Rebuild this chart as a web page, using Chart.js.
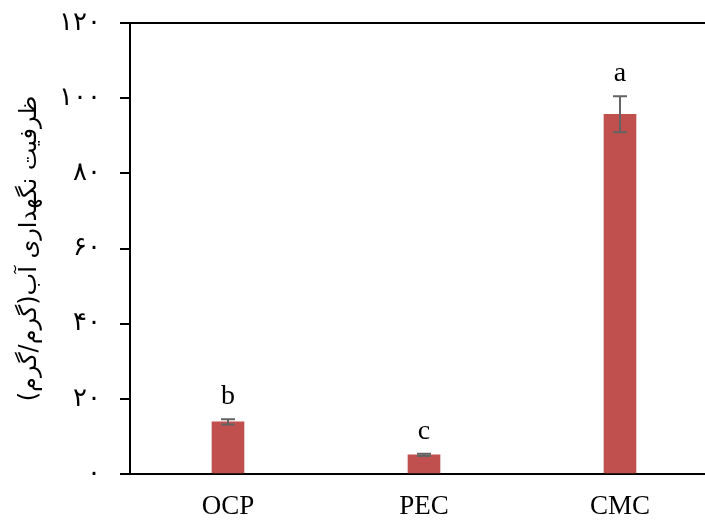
<!DOCTYPE html>
<html>
<head>
<meta charset="utf-8">
<script src="https://cdn.jsdelivr.net/npm/chart.js@4/dist/chart.umd.min.js"></script>
<style>
    html, body { margin: 0; padding: 0; background: #fff; overflow: hidden; }
</style>
</head>
<body>
<canvas id="myChart" width="718" height="523"></canvas>
<script>
// Data
const categories = ['OCP', 'PEC', 'CMC'];
const capacity = [13.9, 5.1, 95.7];
const errors = [0.7, 0.3, 4.8];
const groupLetters = ['b', 'c', 'a'];
const yTickLabels = ['۰', '۲۰', '۴۰', '۶۰', '۸۰', '۱۰۰', '۱۲۰'];
const yTitle = 'ظرفیت نگهداری آب(گرم/گرم)';

// Error bars + significance letters
const errorBarPlugin = {
    id: 'errorBars',
    afterDatasetsDraw(chart) {
        const ctx = chart.ctx;
        const yScale = chart.scales.y;
        const meta = chart.getDatasetMeta(0);
        ctx.save();
        meta.data.forEach((bar, i) => {
            const x = bar.x;
            const yTop = yScale.getPixelForValue(capacity[i] + errors[i]);
            const yBot = yScale.getPixelForValue(capacity[i] - errors[i]);
            ctx.strokeStyle = '#636363';
            ctx.lineWidth = 2;
            ctx.beginPath();
            ctx.moveTo(x, yTop);
            ctx.lineTo(x, yBot);
            ctx.moveTo(x - 7, yTop);
            ctx.lineTo(x + 7, yTop);
            ctx.moveTo(x - 7, yBot);
            ctx.lineTo(x + 7, yBot);
            ctx.stroke();

            ctx.fillStyle = '#000';
            ctx.font = '28px "Liberation Serif"';
            ctx.textAlign = 'center';
            ctx.textBaseline = 'alphabetic';
            ctx.fillText(groupLetters[i], x, yTop - 15);
        });
        ctx.restore();
    }
};

const ctx = document.getElementById('myChart').getContext('2d');
const myChart = new Chart(ctx, {
    type: 'bar',
    data: {
        labels: categories,
        datasets: [{
            data: capacity,
            backgroundColor: '#C0504D',
            barThickness: 32
        }]
    },
    options: {
        responsive: false,
        animation: false,
        layout: { padding: { top: 23, right: 0, bottom: 0, left: 0 } },
        plugins: {
            legend: { display: false },
            tooltip: { enabled: false }
        },
        scales: {
            x: {
                grid: { display: false, drawTicks: false },
                border: { display: true, color: '#000', width: 2 },
                ticks: {
                    color: '#000',
                    padding: 17,
                    font: { family: 'Liberation Serif', size: 27 }
                },
                afterFit(scale) { scale.height = 49; }
            },
            y: {
                min: 0,
                max: 120,
                ticks: {
                    stepSize: 20,
                    color: '#000',
                    padding: 19,
                    font: { family: 'DejaVu Sans', size: 26 },
                    callback: (value, index) => yTickLabels[index]
                },
                grid: {
                    color: c => (c.tick && c.tick.value === 120) ? '#000' : 'rgba(0,0,0,0)',
                    tickColor: '#000',
                    tickLength: 10,
                    lineWidth: 2
                },
                border: { display: true, color: '#000', width: 2 },
                title: {
                    display: true,
                    text: yTitle,
                    color: '#000',
                    padding: { top: 15, bottom: 0 },
                    font: { family: 'DejaVu Sans', size: 24, weight: 'normal' }
                },
                afterFit(scale) {
                    scale.width = 130;
                    scale.paddingTop = 0;
                    scale.paddingBottom = 0;
                }
            }
        }
    },
    plugins: [errorBarPlugin]
});
</script>
</body>
</html>
